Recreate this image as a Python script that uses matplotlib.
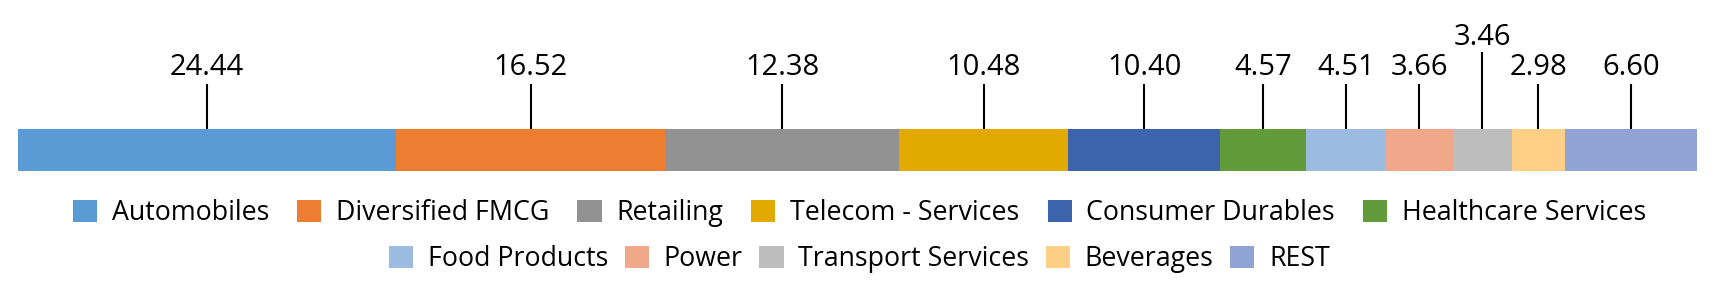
import matplotlib
matplotlib.use("Agg")
import matplotlib.pyplot as plt
from matplotlib.patches import Patch

plt.rcParams['font.family'] = ['Open Sans', 'DejaVu Sans']

# sectors, in bar order
sectors = ["Automobiles", "Diversified FMCG", "Retailing", "Telecom - Services",
           "Consumer Durables", "Healthcare Services", "Food Products", "Power",
           "Transport Services", "Beverages", "REST"]
# printed values above the bar
weights = [24.44, 16.52, 12.38, 10.48, 10.40, 4.57, 4.51, 3.66, 3.46, 2.98, 6.60]
# segment lengths as drawn in the picture (share of bar, %)
segment_share = [22.52, 16.02, 13.93, 10.07, 9.05, 5.12, 4.78, 3.94, 3.54, 3.15, 7.87]
colors = ["#5B9BD5", "#ED7D31", "#929292", "#E2A900", "#3C64AD", "#629B3A",
          "#9DBBE1", "#F1A78A", "#BDBDBD", "#FECF84", "#8FA4D4"]

W, H = 1719, 287
fig = plt.figure(figsize=(W / 100, H / 100), dpi=100)

bar_top, bar_bot = 129, 171
bar_px = bar_bot - bar_top
ax = fig.add_axes([18 / W, 1 - bar_bot / H, (1697 - 18) / W, bar_px / H])
ax.set_xlim(0, sum(segment_share))
ax.set_ylim(0, 1)
ax.axis("off")

left = 0
for i, (share, val, col) in enumerate(zip(segment_share, weights, colors)):
    ax.barh(0.5, share, left=left, height=1, color=col, edgecolor="none")
    mid = left + share / 2
    # the small Transport label sits higher to avoid overlap
    if sectors[i] == "Transport Services":
        line_top, text_base = 77, 84
    else:
        line_top, text_base = 45, 54
    ax.plot([mid, mid], [1, 1 + line_top / bar_px], color="black", lw=1.5,
            clip_on=False, solid_capstyle="butt")
    ax.text(mid, 1 + text_base / bar_px, f"{val:.2f}", ha="center", va="baseline",
            fontsize=21, color="black", clip_on=False)
    left += share

handles = [Patch(facecolor=c, edgecolor="none") for c in colors]
leg_kw = dict(frameon=False, fontsize=19.3, handlelength=0.9, handleheight=0.9,
              handletextpad=0.55, borderpad=0, borderaxespad=0)
fig.legend(handles[:6], sectors[:6], loc="center", ncol=6, columnspacing=1.05,
           bbox_to_anchor=(0.5, 1 - 213 / H), **leg_kw)
fig.legend(handles[6:], sectors[6:], loc="center", ncol=5, columnspacing=0.62,
           bbox_to_anchor=(0.5, 1 - 259 / H), **leg_kw)

fig.savefig("out.png", dpi=100)
